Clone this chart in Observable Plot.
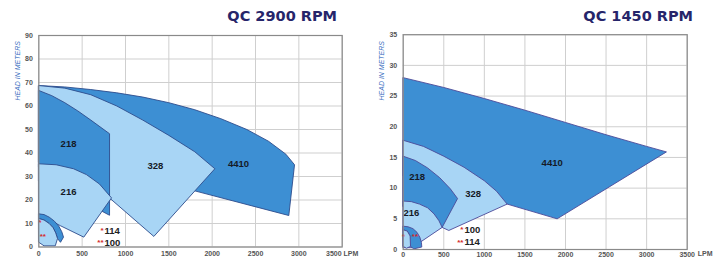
<!DOCTYPE html>
<html><head><meta charset="utf-8">
<script src="https://cdn.jsdelivr.net/npm/d3@7"></script>
<script src="https://cdn.jsdelivr.net/npm/@observablehq/plot@0.6"></script>
<style>
body{margin:0;background:#fff;}
#wrap{position:relative;width:720px;height:258px;overflow:hidden;background:#fff;}
#wrap svg{position:absolute;top:0;}
.t{position:absolute;top:8px;line-height:18px;font:bold 14.5px "DejaVu Sans";color:#26256a;white-space:nowrap;}
</style></head>
<body>
<div id="wrap">
  <div class="t" style="right:383px">QC 2900 RPM</div>
  <div class="t" style="right:27px">QC 1450 RPM</div>
</div>
<script>
// tick labels
const xTicks = [0, 500, 1000, 1500, 2000, 2500, 3000, 3500];
const yTicks2900 = [0, 10, 20, 30, 40, 50, 60, 70, 80, 90];
const yTicks1450 = [0, 5, 10, 15, 20, 25, 30, 35];

// 2900 RPM performance regions: [flow LPM, head m]
const p2900_4410 = [[0,68.7],[300,68.1],[600,67],[900,65.6],[1200,63.8],[1500,61.4],[1800,58.4],[2100,54.6],[2400,50],[2650,45],[2850,39.5],[2950,35],[2884,13.4],[1788,24],[1000,30],[0,36]];
const p2900_328  = [[0,68.7],[300,67.6],[600,64.8],[900,60],[1200,54],[1500,47.5],[1800,40.5],[2031,33.3],[1327,4.5],[827,20.5],[0,34]];
const p2900_218  = [[0,66.6],[150,64.4],[300,61.4],[450,57.9],[600,54],[816,48.2],[816,13.5],[740,15],[0,28]];
const p2900_216  = [[0,35.4],[200,35],[400,33.3],[550,30.8],[700,26.8],[839,20.9],[519,4.2],[247,9.1],[0,14]];
const p2900_114  = [[0,14.1],[60,13.8],[120,12.7],[180,11],[230,8.9],[265,6.5],[285,4.2],[250,2.0],[216,3.6],[195,6],[165,8.2],[120,10],[60,11.5],[0,12.1]];
const p2900_100  = [[0,12.1],[60,11.5],[120,10],[165,8.2],[195,6],[216,3.6],[190,0.5],[60,0.5],[0,2]];

// 1450 RPM performance regions
const p1450_4410 = [[0,28],[500,26.4],[1000,24.6],[1500,22.7],[2000,20.7],[2500,18.7],[3000,16.8],[3244,15.9],[1897,5.0],[1281,7.4],[600,10],[0,12]];
const p1450_328  = [[0,17.8],[250,16.8],[500,15.2],[750,13.4],[1000,11.2],[1150,9.5],[1281,7.4],[562,3.1],[480,3.6],[0,7]];
const p1450_218  = [[0,15.2],[150,14.5],[300,13.3],[450,11.7],[580,9.9],[670,8.3],[480,3.6],[300,6],[0,7]];
const p1450_216  = [[0,7.9],[100,7.8],[200,7.4],[300,6.8],[380,5.8],[440,4.7],[480,3.6],[110,0.3],[0,0.3]];
const p1450_114  = [[0,3.8],[60,3.7],[120,3.4],[170,2.8],[205,2],[225,1.1],[229,0.4],[130,0.1],[90,0.5],[85,2.2],[50,3.0],[0,3.2]];
const p1450_100  = [[0,3.2],[50,3.0],[85,2.2],[90,0.5],[40,0.2],[0,0.5]];

// model labels [text, flow, head]
const labels2900 = [["218",343,44],["216",343,23.6],["328",1346,34.3],["4410",2304,35.5]];
const labels1450 = [["218",172,11.8],["216",102,6.0],["328",862,9.1],["4410",1836,14.1]];
// legend key [stars, model, flow, head]
const key2900 = [["*","114",758,7.0],["**","100",758,1.9]];
const key1450 = [["*","100",755,3.2],["**","114",755,1.2]];
// star markers inside small regions [stars, flow, head]
const stars2900 = [["*",12,10.4],["**",46,4.5]];
const stars1450 = [["*",0,2.2],["**",145,2.2]];

const DARK = "#3d8fd3", LIGHT = "#a8d5f5";

function region(pts, fill, stroke) {
  return Plot.line(pts, {x: d => d[0], y: d => d[1], fill, stroke, strokeWidth: 0.9, curve: "linear-closed"});
}

function chart(o) {
  return Plot.plot({
    width: 360, height: 258,
    marginLeft: o.ml, marginRight: o.mr, marginTop: o.mt, marginBottom: o.mb,
    style: {fontFamily: "Liberation Sans", fontSize: "7px", fontWeight: "bold", color: "#555", background: "transparent"},
    x: {domain: [0, 3500], ticks: xTicks, tickSize: 0, tickPadding: o.xpad, label: null, tickFormat: o.xfmt},
    y: {domain: o.ydom, ticks: o.yticks, tickSize: 0, tickPadding: 6, label: null},
    marks: [
      Plot.gridX(xTicks, {stroke: "#cfcfcf", strokeOpacity: 1}),
      Plot.gridY(o.yticks, {stroke: "#cfcfcf", strokeOpacity: 1}),
      ...o.shapes.map(s => region(s[0], s[1], o.edge)),
      Plot.text(o.labels, {x: d => d[1], y: d => d[2], text: d => d[0], fontSize: 9.5, fontWeight: "bold", fill: "#151a26"}),
      Plot.text(o.key, {x: d => d[2], y: d => d[3], text: d => d[1], textAnchor: "start", fontSize: 9.5, fontWeight: "bold", fill: "#222"}),
      Plot.text(o.key, {x: d => d[2], y: d => d[3], text: d => d[0], textAnchor: "end", dx: -1, fontSize: 8, fill: "#d42a2a"}),
      Plot.text(o.stars, {x: d => d[1], y: d => d[2], text: d => d[0], fontSize: 8, fill: "#d42a2a"}),
      Plot.frame({stroke: "#8a8a8a", strokeWidth: 1.2}),
      Plot.text(["HEAD IN METERS"], {frameAnchor: "left", rotate: -90, dx: o.ydx, dy: o.ydy, fontSize: 7, fontStyle: "italic", fontWeight: "normal", fill: "#3b6fc1"}),
      ...(o.lpm ? [Plot.text(["LPM"], {frameAnchor: "bottom-right", dx: o.lpm[0], dy: o.lpm[1], fill: "#555"})] : [])
    ]
  });
}

const left = chart({
  ml: 38.3, mr: 18.3, mt: 35, mb: 11.5, xpad: 4.5,
  ydom: [0, 90], yticks: yTicks2900,
  xfmt: d => d === 3500 ? "3500 LPM" : String(d),
  edge: "#2d4c8c",
  shapes: [[p2900_4410, DARK], [p2900_328, LIGHT], [p2900_218, DARK], [p2900_216, LIGHT], [p2900_114, DARK], [p2900_100, LIGHT]],
  labels: labels2900, key: key2900, stars: stars2900,
  ydx: -21.3, ydy: -40.7, lpm: null
});
const right = chart({
  ml: 42.7, mr: 33.3, mt: 34.2, mb: 9, xpad: 2.5,
  ydom: [0, 35], yticks: yTicks1450,
  xfmt: d => String(d),
  edge: "#4b4a98",
  shapes: [[p1450_4410, DARK], [p1450_328, LIGHT], [p1450_218, DARK], [p1450_216, LIGHT], [p1450_114, DARK], [p1450_100, LIGHT]],
  labels: labels1450, key: key1450, stars: stars1450,
  ydx: -21, ydy: -41.6, lpm: [25.3, 6]
});
left.style.left = "0px";
right.style.left = "360px";
const wrap = document.getElementById("wrap");
wrap.appendChild(left);
wrap.appendChild(right);
</script>
</body></html>
